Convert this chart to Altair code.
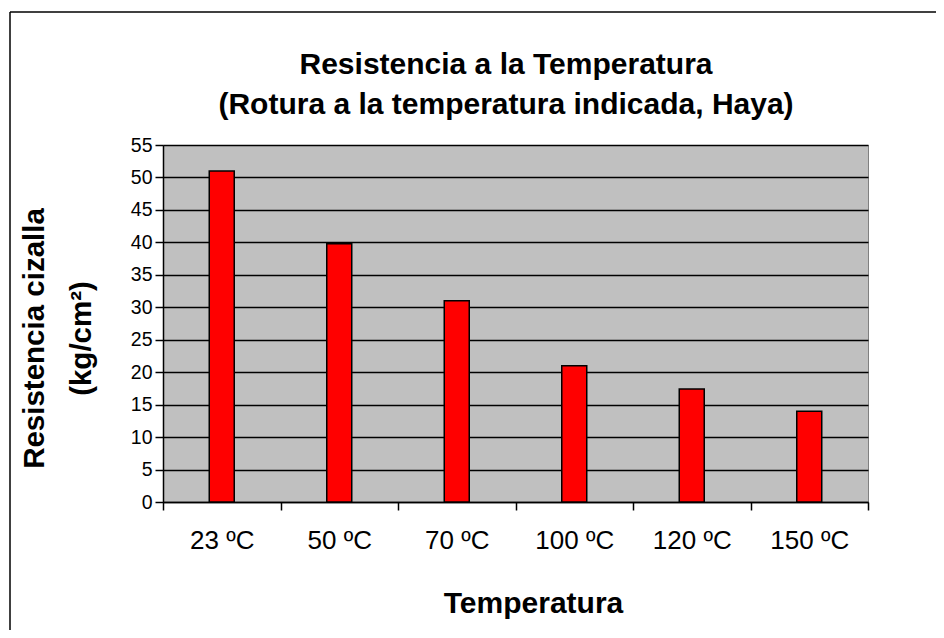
import altair as alt
import pandas as pd

temperaturas = ["23 ºC", "50 ºC", "70 ºC", "100 ºC", "120 ºC", "150 ºC"]
resistencia = [51, 39.8, 31, 21, 17.4, 14]
y_ticks = list(range(0, 56, 5))
titulo = ["Resistencia a la Temperatura", "(Rotura a la temperatura indicada, Haya)"]

df = pd.DataFrame({"Temperatura": temperaturas, "Resistencia": resistencia})

W, H = 705, 357
FONT = "Liberation Sans"

bars = alt.Chart(df).mark_bar(
    color="#FF0000", stroke="#000000", strokeWidth=1.5, size=25
).encode(
    x=alt.X(
        "Temperatura:N",
        sort=temperaturas,
        scale=alt.Scale(paddingInner=0, paddingOuter=0),
        axis=alt.Axis(
            title="Temperatura",
            titleFont=FONT, titleFontSize=30, titleFontWeight="bold", titleColor="#000000",
            titleX=370, titleY=101, titleBaseline="middle", titleAlign="center",
            labelFont=FONT, labelFontSize=26, labelColor="#000000", labelAngle=0,
            labelPadding=17,
            tickBand="extent", tickSize=8, tickColor="#000000", tickWidth=1.5,
            domainColor="#000000", domainWidth=1.5, grid=False,
        ),
    ),
    y=alt.Y(
        "Resistencia:Q",
        scale=alt.Scale(domain=[0, 55], nice=False),
        axis=alt.Axis(
            title=["Resistencia cizalla", "(kg/cm²)"],
            titleFont=FONT, titleFontSize=29.5, titleFontWeight="bold", titleColor="#000000",
            titleX=-129, titleY=193, titleBaseline="middle", titleAlign="center",
            titleAngle=270, titleLineHeight=47,
            values=y_ticks,
            labelFont=FONT, labelFontSize=19.5, labelColor="#000000", labelPadding=3,
            tickSize=8, tickColor="#000000", tickWidth=1.5,
            domainColor="#000000", domainWidth=1.5,
            grid=True, gridColor="#000000", gridWidth=1.5,
        ),
    ),
)

border_data = alt.Data(values=[{"k": 1}])
left_border = alt.Chart(border_data).mark_rule(color="#000000", strokeWidth=1.5).encode(
    x=alt.value(-153), y=alt.value(-133), y2=alt.value(H + 200)
)
top_border = alt.Chart(border_data).mark_rule(color="#000000", strokeWidth=1.5).encode(
    x=alt.value(-153), x2=alt.value(W + 200), y=alt.value(-133)
)

title_data = alt.Data(values=[{"t": titulo[0], "dy": -80}, {"t": titulo[1], "dy": -40}])
title_text = alt.Chart(title_data).mark_text(
    font=FONT, fontSize=30, fontWeight="bold", color="#000000",
    align="center", baseline="middle",
).encode(
    text="t:N",
    x=alt.value(343),
    y=alt.Y("dy:Q", scale=None, axis=None),
)

chart = alt.layer(left_border, top_border, bars, title_text).properties(
    width=W,
    height=H,
    autosize=alt.AutoSizeParams(type="none"),
    padding={"left": 155, "top": 137, "right": 68, "bottom": 128},
).configure(
    background="#FFFFFF"
).configure_view(
    fill="#C0C0C0", stroke="#808080", strokeWidth=1
)

chart.save("out.html", embed_options={"renderer": "svg", "actions": False})
